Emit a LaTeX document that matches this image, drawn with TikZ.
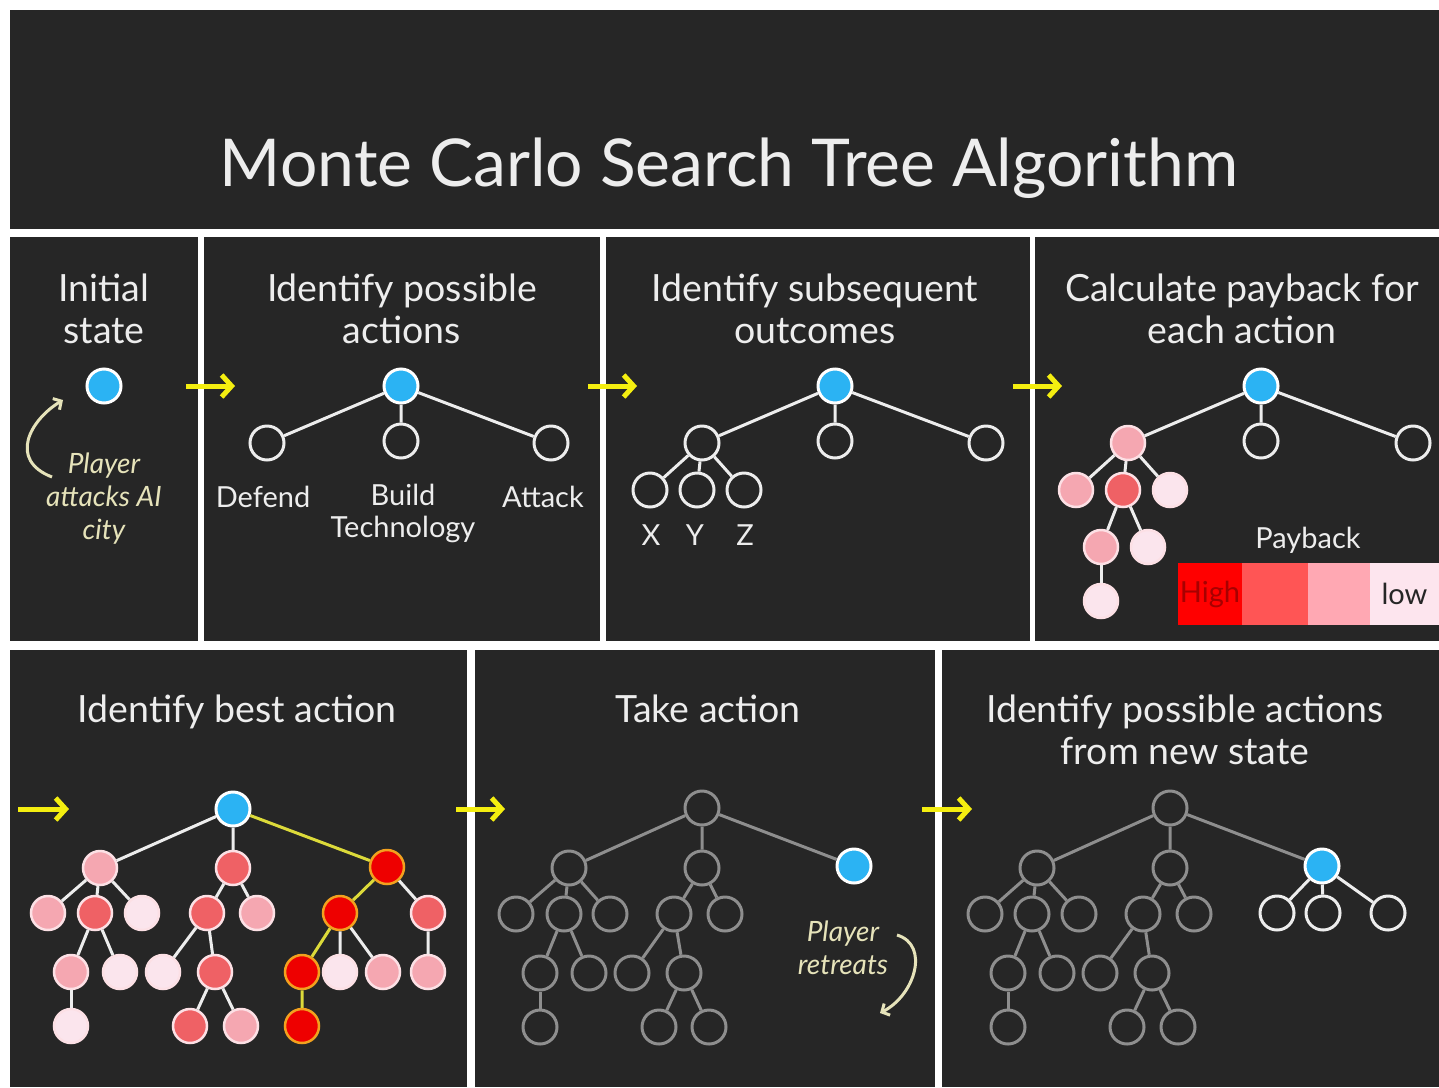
\documentclass[tikz,border=0pt]{standalone}
\usepackage{fontspec}
\setmainfont{Lato}
\usepackage{tikz}
\usetikzlibrary{shapes, arrows.meta, positioning}

\definecolor{board}{HTML}{262626}
\definecolor{chalk}{HTML}{EDEDED}
\definecolor{cream}{HTML}{E6E3BA}
\definecolor{lemon}{HTML}{F4EE10}
\definecolor{trail}{HTML}{DCDA3A}
\definecolor{sky}{HTML}{2BB3F3}
\definecolor{ghost}{HTML}{8E8E8E}
\definecolor{hot}{HTML}{EE0000}
\definecolor{amber}{HTML}{F2A11E}
\definecolor{warm}{HTML}{EF6165}
\definecolor{blush}{HTML}{F5A7B1}
\definecolor{pale}{HTML}{FBE5ED}
\definecolor{rim}{HTML}{FCE0E5}
\definecolor{scarlet}{HTML}{FF0000}
\definecolor{coral}{HTML}{FF5555}
\definecolor{rose}{HTML}{FFA8B3}
\definecolor{mist}{HTML}{FDE5EE}

\begin{document}
\begin{tikzpicture}
  [
    x=1pt, y=-1pt,
    Open/.style={circle, draw=chalk, fill=board, line width=3pt, minimum size=34pt, inner sep=0pt},
    Blue/.style={Open, draw=white, fill=sky},
    Ghost/.style={Open, draw=ghost},
    Warm/.style={circle, draw=rim, fill=warm, line width=2.5pt, minimum size=34pt, inner sep=0pt},
    Blush/.style={Warm, fill=blush},
    Pale/.style={Warm, fill=pale},
    Best/.style={Warm, draw=amber, fill=hot},
    Edge/.style={draw=chalk, line width=3pt},
    GhostEdge/.style={draw=ghost, line width=3pt},
    BestEdge/.style={draw=trail, line width=3pt},
    Hop/.style={draw=lemon, line width=5pt, -{Straight Barb[length=10pt, width=22pt]}},
    Curl/.style={draw=cream, line width=3pt, -{Straight Barb[length=6pt, width=13pt]}},
    Big/.style={text=chalk, font=\fontsize{66}{74}\selectfont},
    Head/.style={text=chalk, font=\fontsize{37.5}{42}\selectfont, align=center},
    Tag/.style={text=chalk, font=\fontsize{29}{32}\selectfont, align=center},
    Note/.style={text=cream, font=\fontsize{28}{33}\selectfont\itshape, align=center},
    Swatch/.style={minimum height=62pt, inner sep=0pt, font=\fontsize{29}{32}\selectfont}
  ]
  % Panels
  \fill[white] (0, 0) rectangle (1439, 1087);
  \useasboundingbox (0, 0) rectangle (1439, 1087);
  \fill[board] (10, 10) rectangle (1439, 229);
  \fill[board] (10, 237) rectangle (198, 641);
  \fill[board] (204, 237) rectangle (600, 641);
  \fill[board] (606, 237) rectangle (1030, 641);
  \fill[board] (1035, 237) rectangle (1439, 641);
  \fill[board] (10, 650) rectangle (467, 1087);
  \fill[board] (475, 650) rectangle (935, 1087);
  \fill[board] (942, 650) rectangle (1439, 1087);

  % Titles
  \node[Big] (title) at (729, 168) {Monte Carlo Search Tree Algorithm};
  \node[Head] (h1) at (104, 309) {Initial\\state};
  \node[Head] (h2) at (402, 309) {Identify possible\\actions};
  \node[Head] (h3) at (815, 309) {Identify subsequent\\outcomes};
  \node[Head] (h4) at (1242, 309) {Calculate payback for\\each action};
  \node[Head] (h5) at (237, 712) {Identify best action};
  \node[Head] (h6) at (708, 709) {Take action};
  \node[Head] (h7) at (1185, 730) {Identify possible actions\\from new state};

  % Step arrows
  \coordinate (hop1a) at (186, 386);  \coordinate (hop1b) at (235, 386);
  \coordinate (hop2a) at (588, 386);  \coordinate (hop2b) at (637, 386);
  \coordinate (hop3a) at (1013, 386); \coordinate (hop3b) at (1062, 386);
  \coordinate (hop4a) at (18, 809);   \coordinate (hop4b) at (69, 809);
  \coordinate (hop5a) at (456, 809);  \coordinate (hop5b) at (505, 809);
  \coordinate (hop6a) at (922, 809);  \coordinate (hop6b) at (972, 809);
  \path [Hop] (hop1a) -- (hop1b);
  \path [Hop] (hop2a) -- (hop2b);
  \path [Hop] (hop3a) -- (hop3b);
  \path [Hop] (hop4a) -- (hop4b);
  \path [Hop] (hop5a) -- (hop5b);
  \path [Hop] (hop6a) -- (hop6b);

  % Initial state
  \node[Blue] (s0) at (104, 386) {};
  \node[Note] (s0note) at (104, 499) {Player\\attacks AI\\city};
  \coordinate (s0from) at (52, 477);
  \coordinate (s0to) at (63, 400);
  \path [Curl] (s0from) .. controls (8, 460) and (30, 420) .. (s0to);

  % Possible actions
  \node[Blue] (a0) at (401, 386) {};
  \node[Open] (a1) at (267, 443) {};
  \node[Open] (a2) at (401, 441) {};
  \node[Open] (a3) at (551, 443) {};
  \node[Tag] (a1tag) at (263, 497) {Defend};
  \node[Tag] (a2tag) at (403, 513) {Build\\Technology};
  \node[Tag] (a3tag) at (543, 497) {Attack};
  \path [Edge] (a0) -- (a1) (a0) -- (a2) (a0) -- (a3);

  % Subsequent outcomes
  \node[Blue] (b0) at (835, 386) {};
  \node[Open] (b1) at (702, 443) {};
  \node[Open] (b2) at (835, 441) {};
  \node[Open] (b3) at (986, 443) {};
  \node[Open] (b11) at (650, 490) {};
  \node[Open] (b12) at (697, 490) {};
  \node[Open] (b13) at (744, 490) {};
  \node[Tag] (b11tag) at (651, 535) {X};
  \node[Tag] (b12tag) at (695, 535) {Y};
  \node[Tag] (b13tag) at (745, 535) {Z};
  \path [Edge] (b0) -- (b1) (b0) -- (b2) (b0) -- (b3);
  \path [Edge] (b1) -- (b11) (b1) -- (b12) (b1) -- (b13);

  % Payback
  \node[Blue] (c0) at (1261, 386) {};
  \node[Blush] (c1) at (1128, 443) {};
  \node[Open] (c2) at (1261, 441) {};
  \node[Open] (c3) at (1413, 443) {};
  \node[Blush] (c11) at (1076, 490) {};
  \node[Warm] (c12) at (1123, 490) {};
  \node[Pale] (c13) at (1170, 490) {};
  \node[Blush] (c121) at (1101, 547) {};
  \node[Pale] (c122) at (1148, 547) {};
  \node[Pale] (c1211) at (1101, 601) {};
  \path [Edge] (c0) -- (c1) (c0) -- (c2) (c0) -- (c3);
  \path [Edge] (c1) -- (c11) (c1) -- (c12) (c1) -- (c13);
  \path [Edge] (c12) -- (c121) (c12) -- (c122);
  \path [Edge] (c121) -- (c1211);
  \node[Tag] (paylabel) at (1308, 540) {Payback};
  \node[Swatch, fill=scarlet, minimum width=64pt, text=hot!70!black] (high) at (1210, 594) {High};
  \node[Swatch, fill=coral, minimum width=66pt] (mid1) at (1275, 594) {};
  \node[Swatch, fill=rose, minimum width=62pt] (mid2) at (1339, 594) {};
  \node[Swatch, fill=mist, minimum width=69pt, text=board] (low) at (1404.5, 594) {low};

  % Best action
  \node[Blue] (d0) at (233, 809) {};
  \node[Blush] (d1) at (100, 868) {};
  \node[Warm] (d2) at (233, 868) {};
  \node[Best] (d3) at (387, 867) {};
  \node[Blush] (d11) at (48, 913) {};
  \node[Warm] (d12) at (95, 913) {};
  \node[Pale] (d13) at (142, 913) {};
  \node[Warm] (d21) at (207, 913) {};
  \node[Blush] (d22) at (257, 913) {};
  \node[Best] (d31) at (340, 913) {};
  \node[Warm] (d32) at (428, 913) {};
  \node[Blush] (d121) at (71, 972) {};
  \node[Pale] (d122) at (120, 972) {};
  \node[Pale] (d211) at (163, 972) {};
  \node[Warm] (d212) at (215, 972) {};
  \node[Best] (d311) at (302, 972) {};
  \node[Pale] (d312) at (340, 972) {};
  \node[Blush] (d313) at (383, 972) {};
  \node[Blush] (d321) at (428, 972) {};
  \node[Pale] (d1211) at (71, 1026) {};
  \node[Warm] (d2121) at (190, 1026) {};
  \node[Blush] (d2122) at (241, 1026) {};
  \node[Best] (d3111) at (302, 1026) {};
  \path [Edge] (d0) -- (d1) (d0) -- (d2);
  \path [Edge] (d1) -- (d11) (d1) -- (d12) (d1) -- (d13);
  \path [Edge] (d12) -- (d121) (d12) -- (d122);
  \path [Edge] (d121) -- (d1211);
  \path [Edge] (d2) -- (d21) (d2) -- (d22);
  \path [Edge] (d21) -- (d211) (d21) -- (d212);
  \path [Edge] (d212) -- (d2121) (d212) -- (d2122);
  \path [Edge] (d3) -- (d32) (d32) -- (d321);
  \path [Edge] (d31) -- (d312) (d31) -- (d313);
  \path [BestEdge] (d0) -- (d3) (d3) -- (d31) (d31) -- (d311) (d311) -- (d3111);

  % Take action
  \node[Ghost] (e0) at (702, 808) {};
  \node[Ghost] (e1) at (569, 868) {};
  \node[Ghost] (e2) at (702, 868) {};
  \node[Blue] (e3) at (854, 866) {};
  \node[Ghost] (e11) at (516, 914) {};
  \node[Ghost] (e12) at (564, 914) {};
  \node[Ghost] (e13) at (610, 914) {};
  \node[Ghost] (e21) at (674, 914) {};
  \node[Ghost] (e22) at (725, 914) {};
  \node[Ghost] (e121) at (540, 973) {};
  \node[Ghost] (e122) at (589, 973) {};
  \node[Ghost] (e211) at (632, 973) {};
  \node[Ghost] (e212) at (684, 973) {};
  \node[Ghost] (e1211) at (540, 1027) {};
  \node[Ghost] (e2121) at (659, 1027) {};
  \node[Ghost] (e2122) at (709, 1027) {};
  \path [GhostEdge] (e0) -- (e1) (e0) -- (e2) (e0) -- (e3);
  \path [GhostEdge] (e1) -- (e11) (e1) -- (e12) (e1) -- (e13);
  \path [GhostEdge] (e12) -- (e121) (e12) -- (e122);
  \path [GhostEdge] (e121) -- (e1211);
  \path [GhostEdge] (e2) -- (e21) (e2) -- (e22);
  \path [GhostEdge] (e21) -- (e211) (e21) -- (e212);
  \path [GhostEdge] (e212) -- (e2121) (e212) -- (e2122);
  \node[Note] (e3note) at (843, 948) {Player\\retreats};
  \coordinate (e3from) at (897, 935);
  \coordinate (e3to) at (880, 1013);
  \path [Curl] (e3from) .. controls (930, 945) and (915, 995) .. (e3to);

  % New state
  \node[Ghost] (f0) at (1170, 808) {};
  \node[Ghost] (f1) at (1037, 868) {};
  \node[Ghost] (f2) at (1170, 868) {};
  \node[Blue] (f3) at (1322, 866) {};
  \node[Ghost] (f11) at (985, 914) {};
  \node[Ghost] (f12) at (1032, 914) {};
  \node[Ghost] (f13) at (1079, 914) {};
  \node[Ghost] (f21) at (1143, 914) {};
  \node[Ghost] (f22) at (1194, 914) {};
  \node[Ghost] (f121) at (1008, 973) {};
  \node[Ghost] (f122) at (1057, 973) {};
  \node[Ghost] (f211) at (1100, 973) {};
  \node[Ghost] (f212) at (1152, 973) {};
  \node[Ghost] (f1211) at (1008, 1027) {};
  \node[Ghost] (f2121) at (1127, 1027) {};
  \node[Ghost] (f2122) at (1178, 1027) {};
  \node[Open] (f31) at (1277, 913) {};
  \node[Open] (f32) at (1323, 913) {};
  \node[Open] (f33) at (1388, 913) {};
  \path [GhostEdge] (f0) -- (f1) (f0) -- (f2) (f0) -- (f3);
  \path [GhostEdge] (f1) -- (f11) (f1) -- (f12) (f1) -- (f13);
  \path [GhostEdge] (f12) -- (f121) (f12) -- (f122);
  \path [GhostEdge] (f121) -- (f1211);
  \path [GhostEdge] (f2) -- (f21) (f2) -- (f22);
  \path [GhostEdge] (f21) -- (f211) (f21) -- (f212);
  \path [GhostEdge] (f212) -- (f2121) (f212) -- (f2122);
  \path [Edge] (f3) -- (f31) (f3) -- (f32) (f3) -- (f33);

\end{tikzpicture}
\end{document}
